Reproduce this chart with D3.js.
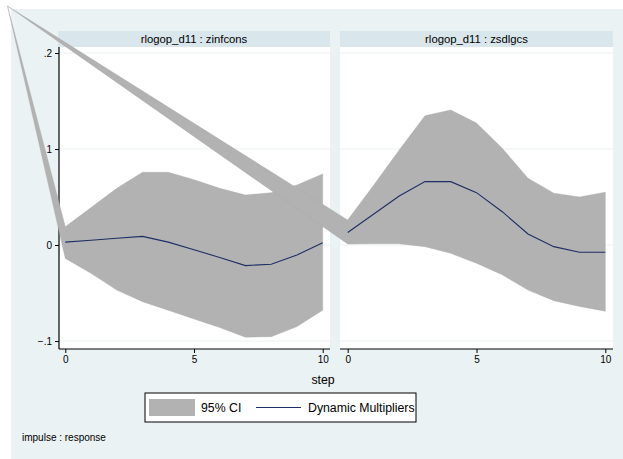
<!DOCTYPE html>
<html>
<head>
<meta charset="utf-8">
<script src="https://cdn.jsdelivr.net/npm/d3@7"></script>
<style>
  body { margin: 0; background: #fff; }
  svg { display: block; font-family: "Liberation Sans", Arial, sans-serif; }
</style>
</head>
<body>
<div id="chart"></div>
<script>
// impulse response steps
const steps = [0, 1, 2, 3, 4, 5, 6, 7, 8, 9, 10];
const yTicks = [-0.1, 0, 0.1, 0.2];
const xTicks = [0, 5, 10];

// rlogop_d11 : zinfcons
const zinfconsIrf = [0.003, 0.005, 0.007, 0.009, 0.003, -0.005, -0.013, -0.0215, -0.020, -0.0104, 0.0024];
const zinfconsLo = [-0.014, -0.0295, -0.047, -0.059, -0.068, -0.077, -0.086, -0.096, -0.0955, -0.085, -0.068];
const zinfconsHi = [0.019, 0.039, 0.059, 0.0757, 0.0757, 0.068, 0.059, 0.052, 0.0545, 0.0625, 0.074];

// rlogop_d11 : zsdlgcs
const zsdlgcsIrf = [0.013, 0.032, 0.051, 0.066, 0.066, 0.0545, 0.0347, 0.0115, -0.0017, -0.0076, -0.0076];
const zsdlgcsLo = [0.001, 0.0013, 0.0013, -0.0017, -0.0087, -0.019, -0.031, -0.047, -0.058, -0.064, -0.069];
const zsdlgcsHi = [0.026, 0.062, 0.099, 0.1347, 0.1406, 0.127, 0.1007, 0.0695, 0.054, 0.050, 0.055];

const panels = [
  { title: 'rlogop_d11 : zinfcons', irf: zinfconsIrf, lo: zinfconsLo, hi: zinfconsHi },
  { title: 'rlogop_d11 : zsdlgcs', irf: zsdlgcsIrf, lo: zsdlgcsLo, hi: zsdlgcsHi }
];

const width = 623;
const height = 459;
const bg = '#eaf2f3';
const stripColor = '#d9e6eb';
const ciColor = '#b2b2b2';
const lineColor = '#1f2f66';

// plot boxes (left, right) and the shared vertical extent
const boxes = [
  { left: 59, right: 330, x0: 65.3, x1: 322.7, stripLeft: 58 },
  { left: 340, right: 613, x0: 347.7, x1: 605.3, stripLeft: 340 }
];
const plotTop = 47;
const plotBottom = 349;
const stripTop = 31;
// stray polygon anchor (graph origin) that stata leaves in the CI area
const stray = [7.5, 6];

const svg = d3.select('#chart')
  .append('svg')
  .attr('width', width)
  .attr('height', height)
  .attr('viewBox', [0, 0, width, height]);

svg.append('rect')
  .attr('x', 11).attr('y', 9)
  .attr('width', width - 11).attr('height', height - 9)
  .attr('fill', bg);

const y = d3.scaleLinear().domain([-0.1, 0.2]).range([341, 53]);
const fmt = d => d === 0 ? '0' : d3.format('.1f')(d).replace('0.', '.');

boxes.forEach((b, i) => {
  b.x = d3.scaleLinear().domain([0, 10]).range([b.x0, b.x1]);

  svg.append('rect')
    .attr('x', b.stripLeft).attr('y', stripTop)
    .attr('width', b.right - b.stripLeft).attr('height', plotTop - stripTop)
    .attr('fill', stripColor);
  svg.append('text')
    .attr('x', (b.stripLeft + b.right) / 2)
    .attr('y', 43)
    .attr('text-anchor', 'middle')
    .attr('font-size', '11.3px')
    .attr('fill', '#000')
    .text(panels[i].title);

  svg.append('rect')
    .attr('x', b.left).attr('y', plotTop)
    .attr('width', b.right - b.left).attr('height', plotBottom - plotTop)
    .attr('fill', '#fff');

  svg.append('g').selectAll('line')
    .data(yTicks)
    .join('line')
    .attr('x1', b.left).attr('x2', b.right)
    .attr('y1', d => y(d)).attr('y2', d => y(d))
    .attr('stroke', bg)
    .attr('stroke-width', 1);

  // x axis
  const gx = svg.append('g')
    .attr('transform', `translate(0,${plotBottom})`)
    .call(d3.axisBottom(b.x).tickValues(xTicks).tickSize(4).tickPadding(3).tickFormat(d3.format('d')));
  gx.select('.domain').remove();
  gx.selectAll('text').attr('font-size', '10px').attr('font-family', null).attr('fill', '#000');
  gx.selectAll('line').attr('stroke', '#000');
  svg.append('line')
    .attr('x1', b.left).attr('x2', b.right)
    .attr('y1', plotBottom).attr('y2', plotBottom)
    .attr('stroke', '#000').attr('stroke-width', 1.2);
});

// y axis on the first panel only
const gy = svg.append('g')
  .attr('transform', `translate(${boxes[0].left},0)`)
  .call(d3.axisLeft(y).tickValues(yTicks).tickSize(4).tickPadding(3).tickFormat(fmt));
gy.select('.domain').remove();
gy.selectAll('text').attr('font-size', '10px').attr('font-family', null).attr('fill', '#000');
gy.selectAll('line').attr('stroke', '#000');
svg.append('line')
  .attr('x1', boxes[0].left).attr('x2', boxes[0].left)
  .attr('y1', plotTop).attr('y2', plotBottom)
  .attr('stroke', '#000').attr('stroke-width', 1.2);

// CI areas (with the stray origin vertex) and IRF lines
const poly = d3.line();
panels.forEach((p, i) => {
  const x = boxes[i].x;
  const upper = steps.map((s, j) => [x(s), y(p.hi[j])]);
  const lower = steps.map((s, j) => [x(s), y(p.lo[j])]).reverse();
  svg.append('path')
    .attr('d', poly([stray, ...upper, ...lower]) + 'Z')
    .attr('fill', ciColor)
    .attr('stroke', '#a8a8a8')
    .attr('stroke-width', 0.4);

  svg.append('path')
    .datum(steps)
    .attr('d', d3.line().x(s => x(s)).y((s, j) => y(p.irf[j])))
    .attr('fill', 'none')
    .attr('stroke', lineColor)
    .attr('stroke-width', 1.1);
});

// x title
svg.append('text')
  .attr('x', 323).attr('y', 384)
  .attr('text-anchor', 'middle')
  .attr('font-size', '12.3px')
  .text('step');

// legend
const lg = svg.append('g');
lg.append('rect')
  .attr('x', 145).attr('y', 393)
  .attr('width', 271).attr('height', 29)
  .attr('fill', '#fff').attr('stroke', '#000').attr('stroke-width', 1);
lg.append('rect')
  .attr('x', 149).attr('y', 399)
  .attr('width', 46).attr('height', 17)
  .attr('fill', ciColor);
lg.append('text')
  .attr('x', 201).attr('y', 412)
  .attr('font-size', '12.3px')
  .text('95% CI');
lg.append('line')
  .attr('x1', 256).attr('x2', 301)
  .attr('y1', 407.5).attr('y2', 407.5)
  .attr('stroke', lineColor).attr('stroke-width', 1.1);
lg.append('text')
  .attr('x', 308).attr('y', 412)
  .attr('font-size', '12.3px')
  .text('Dynamic Multipliers');

svg.append('text')
  .attr('x', 22).attr('y', 441)
  .attr('font-size', '10px')
  .text('impulse : response');
</script>
</body>
</html>
